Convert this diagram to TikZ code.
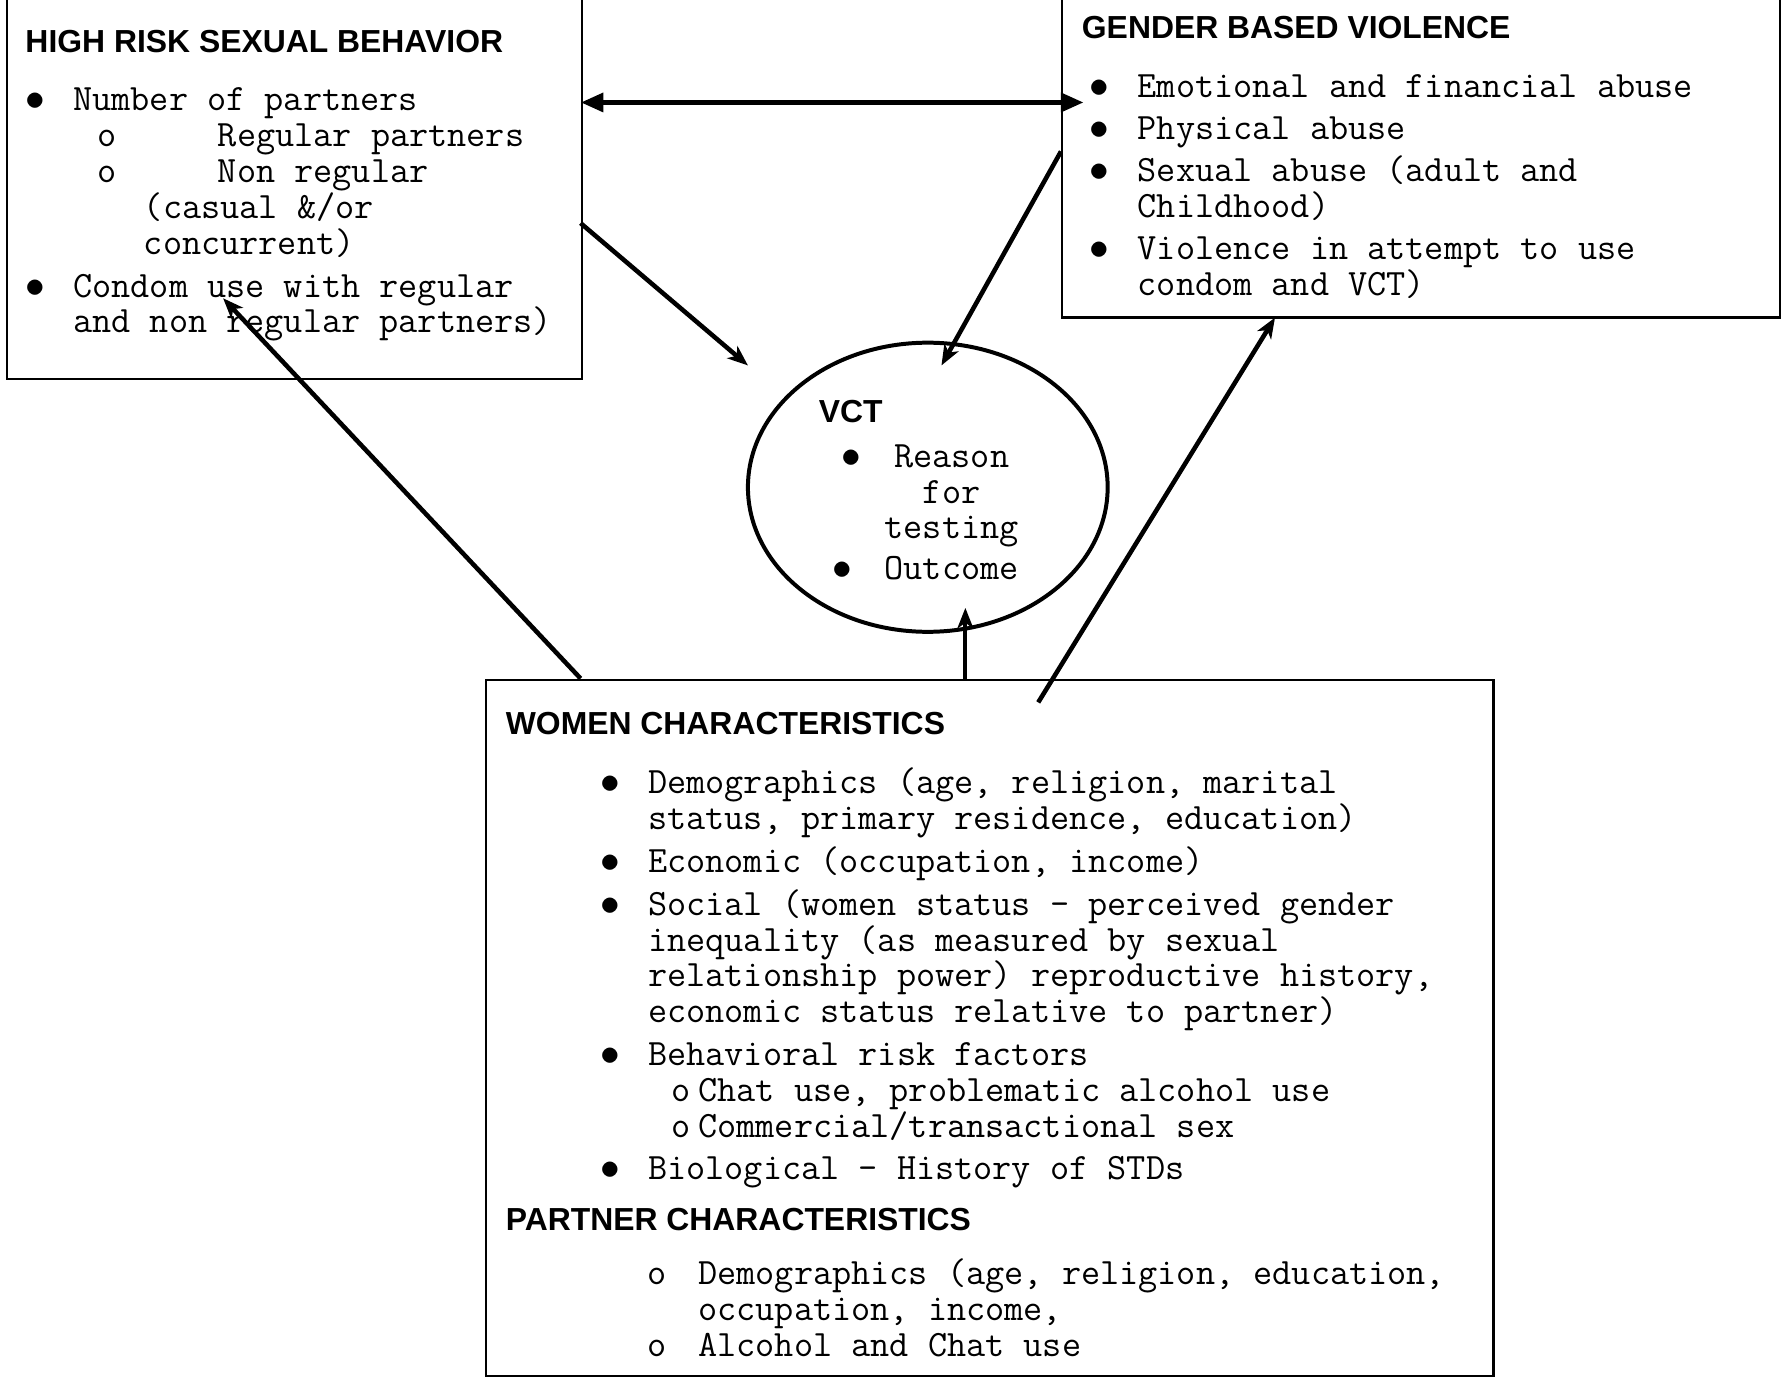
\documentclass[tikz,border=0pt]{standalone}
\usepackage{fontspec}
\setmainfont{Liberation Sans}
\usetikzlibrary{arrows.meta,positioning,shapes.geometric}

\newcommand{\bul}{\makebox[21pt][l]{$\bullet$}}
\newcommand{\vbul}{\llap{$\bullet$\hspace*{14.5pt}}}
\newcommand{\firstline}{\rule{0pt}{12.5pt}}

\tikzset{
  box/.style={draw, line width=0.9pt, inner sep=0pt, anchor=north west},
  head/.style={font=\bfseries\fontsize{14}{16}\selectfont, inner sep=0pt, anchor=base west},
  txt/.style={font=\ttfamily\fontsize{16.33}{15.75}\selectfont, inner sep=0pt, align=left, anchor=north west},
  link/.style={line width=2pt, -{Stealth[length=9pt,width=7pt,inset=2.5pt]}},
  dbl/.style={line width=2.4pt, {Triangle[length=10pt,width=8pt]}-{Triangle[length=10pt,width=8pt]}},
}

\begin{document}
\begin{tikzpicture}[x=0.5pt,y=-0.5pt]
    \path[use as bounding box, fill=white] (0,0) rectangle (1568,1212);

    % High risk sexual behavior
    \node[box, minimum width=252.5pt, minimum height=171pt] (hrsb) at (5,-10) {};
    \node[head] (hrsbhead) at (22,46) {HIGH RISK SEXUAL BEHAVIOR};
    \node[txt] (hrsbtxt) at (22,72) {\firstline\bul Number of partners\\
        \hspace*{31.8pt}\makebox[52.7pt][l]{o}Regular partners\\
        \hspace*{31.8pt}\makebox[52.7pt][l]{o}Non regular\\
        \hspace*{52pt}(casual \&/or\\
        \hspace*{52pt}concurrent)\\[3pt]
        \bul Condom use with regular\\
        \hspace*{21pt}and non regular partners)};

    % Gender based violence
    \node[box, minimum width=315.5pt, minimum height=144pt] (gbv) at (932,-10) {};
    \node[head] (gbvhead) at (950,34) {GENDER BASED VIOLENCE};
    \node[txt] (gbvtxt) at (957,60) {\firstline\bul Emotional and financial abuse\\[2.75pt]
        \bul Physical abuse\\[2.75pt]
        \bul Sexual abuse (adult and\\
        \hspace*{21pt}Childhood)\\[2.75pt]
        \bul Violence in attempt to use\\
        \hspace*{21pt}condom and VCT)};

    % VCT
    \node[draw, ellipse, line width=1.75pt, inner sep=0pt, minimum width=158pt, minimum height=127pt] (vct) at (815,428) {};
    \node[head] (vcthead) at (719,371) {VCT};
    \node[txt, align=center, anchor=north] (vcttxt) at (836,385) {\firstline\vbul Reason\\for\\testing\\[2.25pt]\vbul Outcome};

    % Women and partner characteristics
    \node[box, minimum width=442.5pt, minimum height=306pt] (women) at (426,596) {};
    \node[head] (womenhead) at (444,645) {WOMEN CHARACTERISTICS};
    \node[txt] (womentxt) at (527,672) {\firstline\bul Demographics (age, religion, marital\\
        \hspace*{21pt}status, primary residence, education)\\[3pt]
        \bul Economic (occupation, income)\\[3pt]
        \bul Social (women status – perceived gender\\
        \hspace*{21pt}inequality (as measured by sexual\\
        \hspace*{21pt}relationship power) reproductive history,\\
        \hspace*{21pt}economic status relative to partner)\\[3pt]
        \bul Behavioral risk factors\\
        \hspace*{31.3pt}\makebox[11.7pt][l]{o}Chat use, problematic alcohol use\\
        \hspace*{31.3pt}\makebox[11.7pt][l]{o}Commercial/transactional sex\\[3pt]
        \bul Biological – History of STDs};
    \node[head] (partnerhead) at (444,1081) {PARTNER CHARACTERISTICS};
    \node[txt] (partnertxt) at (527,1103) {\firstline\hspace*{20.8pt}\makebox[22.2pt][l]{o}Demographics (age, religion, education,\\
        \hspace*{43pt}occupation, income,\\
        \hspace*{20.8pt}\makebox[22.2pt][l]{o}Alcohol and Chat use};

    % arrow ends
    \coordinate (dblA) at (510,90);
    \coordinate (dblB) at (952,90);
    \coordinate (hrsbOut) at (510,196);
    \coordinate (vctInL) at (657,321);
    \coordinate (gbvOut) at (932,133);
    \coordinate (vctInR) at (827,321);
    \coordinate (womenOutL) at (510,596);
    \coordinate (hrsbIn) at (196,262);
    \coordinate (womenOutC) at (848,596);
    \coordinate (vctInB) at (848,534);
    \coordinate (womenOutR) at (912,617);
    \coordinate (gbvIn) at (1120,279);

    % arrows
    \draw[dbl] (dblA) -- (dblB);
    \draw[link] (hrsbOut) -- (vctInL);
    \draw[link] (gbvOut) -- (vctInR);
    \draw[link] (womenOutL) -- (hrsbIn);
    \draw[link, line width=1.8pt] (womenOutC) -- (vctInB);
    \draw[link] (womenOutR) -- (gbvIn);
\end{tikzpicture}
\end{document}
